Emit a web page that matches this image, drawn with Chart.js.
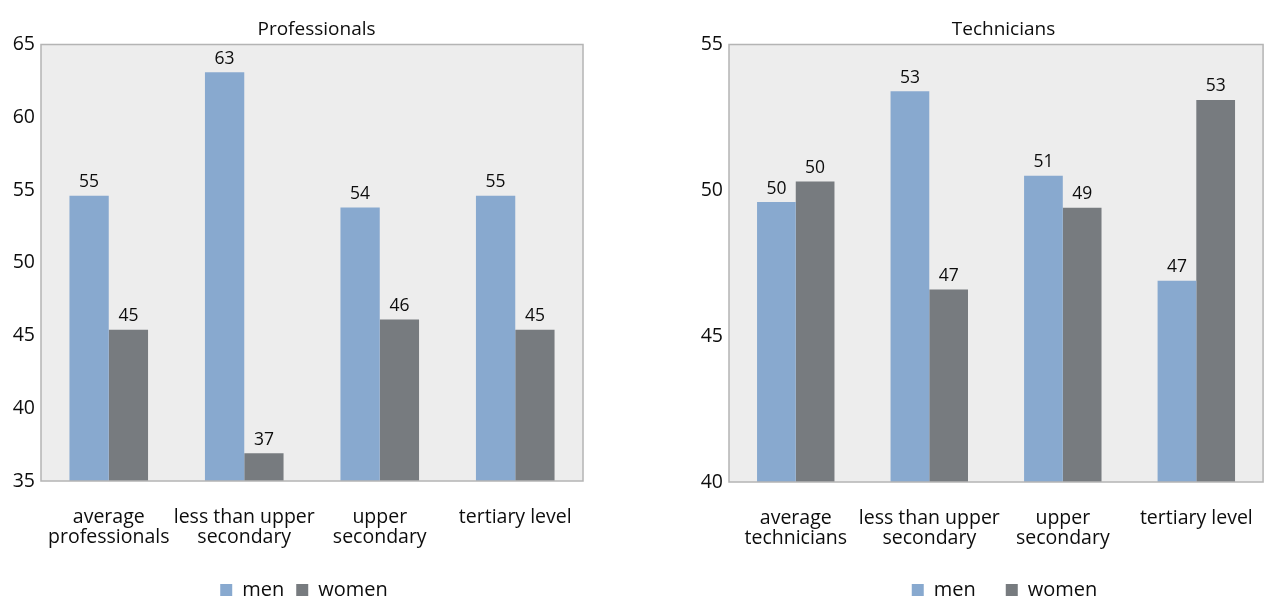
<!DOCTYPE html>
<html>
<head>
<meta charset="utf-8">
<title>Professionals and technicians by education level</title>
<script src="https://cdn.jsdelivr.net/npm/chart.js@4.4.0/dist/chart.umd.min.js"></script>
<style>
  html, body { margin: 0; padding: 0; background: #fff; overflow: hidden; }
  body { width: 1266px; height: 596px; position: relative; }
  .panel { position: absolute; top: 0; height: 610px; }
  #wrap-prof { left: 0; width: 632px; }
  #wrap-tech { left: 680px; width: 600px; }
</style>
</head>
<body>
<div class="panel" id="wrap-prof"><canvas id="chart-prof"></canvas></div>
<div class="panel" id="wrap-tech"><canvas id="chart-tech"></canvas></div>
<script>
// professionals
const profLabels = [['average', 'professionals'], ['less than upper', 'secondary'], ['upper', 'secondary'], 'tertiary level'];
const profMen = [54.6, 63.1, 53.8, 54.6];
const profWomen = [45.4, 36.9, 46.1, 45.4];
const profTicks = [35, 40, 45, 50, 55, 60, 65];

// technicians
const techLabels = [['average', 'technicians'], ['less than upper', 'secondary'], ['upper', 'secondary'], 'tertiary level'];
const techMen = [49.6, 53.4, 50.5, 46.9];
const techWomen = [50.3, 46.6, 49.4, 53.1];
const techTicks = [40, 45, 50, 55];

const seriesNames = ['men', 'women'];

const colors = {
  men: '#88a9cf',
  women: '#777b7f',
  plotBg: '#ededed',
  frame: '#b4b4b4',
  text: '#0d0d0d'
};
const FONT = '"Open Sans", "Noto Sans", sans-serif';

// grey plot background + thin frame round it
const framePlugin = {
  id: 'frame',
  beforeDatasetsDraw(chart) {
    const a = chart.chartArea;
    const ctx = chart.ctx;
    ctx.save();
    ctx.fillStyle = colors.plotBg;
    ctx.fillRect(a.left, a.top, a.right - a.left, a.bottom - a.top);
    ctx.restore();
  },
  afterDatasetsDraw(chart) {
    const a = chart.chartArea;
    const ctx = chart.ctx;
    ctx.save();
    ctx.strokeStyle = colors.frame;
    ctx.lineWidth = 1.5;
    ctx.strokeRect(a.left, a.top, a.right - a.left, a.bottom - a.top);
    ctx.restore();
  }
};

// nudge title and legend sideways after layout
const boxShift = {
  id: 'boxShift',
  afterLayout(chart, args, opts) {
    const move = (box, dx) => {
      if (box && dx) { box.left += dx; box.right += dx; }
    };
    move(chart.titleBlock, opts.titleDx || 0);
    move(chart.legend, opts.legendDx || 0);
  }
};

// rounded value above each bar
const valueLabels = {
  id: 'valueLabels',
  afterDatasetsDraw(chart) {
    const ctx = chart.ctx;
    ctx.save();
    ctx.font = '17.5px ' + FONT;
    ctx.fillStyle = colors.text;
    ctx.textAlign = 'center';
    ctx.textBaseline = 'alphabetic';
    chart.data.datasets.forEach((ds, i) => {
      chart.getDatasetMeta(i).data.forEach((bar, j) => {
        ctx.fillText(String(Math.round(ds.data[j])), bar.x, bar.y - 8.5);
      });
    });
    ctx.restore();
  }
};

function makeChart(id, title, labels, men, women, ticks, layout) {
  const ctx = document.getElementById(id).getContext('2d');
  return new Chart(ctx, {
    type: 'bar',
    data: {
      labels,
      datasets: [
        { label: seriesNames[0], data: men, backgroundColor: colors.men },
        { label: seriesNames[1], data: women, backgroundColor: colors.women }
      ]
    },
    options: {
      responsive: true,
      maintainAspectRatio: false,
      animation: false,
      events: [],
      layout: { padding: { left: 0, right: layout.padRight, top: 0, bottom: 0 } },
      datasets: { bar: { barPercentage: 1, categoryPercentage: 0.58 } },
      scales: {
        x: {
          grid: { display: false, drawTicks: false },
          border: { display: false },
          ticks: {
            color: colors.text,
            font: { family: FONT, size: 19.5, lineHeight: 1.03 },
            padding: 26,
            maxRotation: 0,
            autoSkip: false
          },
          afterFit(scale) { scale.height = layout.xHeight; }
        },
        y: {
          min: ticks[0],
          max: ticks[ticks.length - 1],
          grid: { display: false, drawTicks: false },
          border: { display: false },
          ticks: {
            stepSize: ticks[1] - ticks[0],
            color: colors.text,
            font: { family: FONT, size: 19.5 },
            padding: 6
          },
          afterFit(scale) { scale.width = layout.yWidth; }
        }
      },
      plugins: {
        title: {
          display: true,
          text: title,
          color: colors.text,
          font: { family: FONT, size: 19, weight: 'normal', lineHeight: 1.1 },
          padding: { top: 19, bottom: 4.6 }
        },
        legend: {
          position: 'bottom',
          fullSize: false,
          labels: {
            color: colors.text,
            font: { family: FONT, size: 20 },
            boxWidth: 12,
            boxHeight: 12,
            padding: layout.legendGap
          }
        },
        tooltip: { enabled: false },
        boxShift: { titleDx: layout.titleDx, legendDx: layout.legendDx }
      }
    },
    plugins: [framePlugin, boxShift, valueLabels]
  });
}

makeChart('chart-prof', 'Professionals', profLabels, profMen, profWomen, profTicks,
  { padRight: 49, yWidth: 41, xHeight: 87, legendGap: 12, titleDx: 25, legendDx: -8 });
makeChart('chart-tech', 'Technicians', techLabels, techMen, techWomen, techTicks,
  { padRight: 10, yWidth: 49, xHeight: 68, legendGap: 30, titleDx: 28.5, legendDx: 8.5 });
</script>
</body>
</html>
